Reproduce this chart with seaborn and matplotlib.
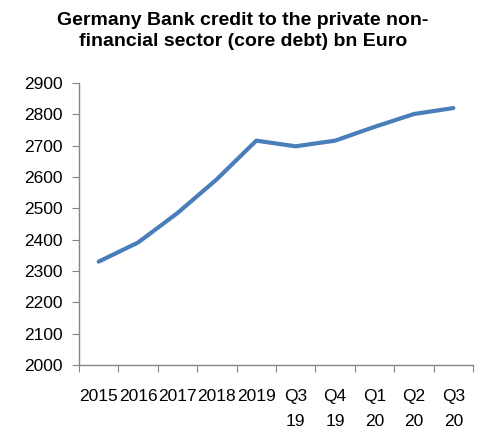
import matplotlib
matplotlib.use("Agg")
import matplotlib.pyplot as plt
import seaborn as sns
import pandas as pd
import numpy as np

categories = ["2015", "2016", "2017", "2018", "2019", "Q3\n19", "Q4\n19", "Q1\n20", "Q2\n20", "Q3\n20"]
values = [2330, 2391, 2485, 2593, 2716, 2698, 2716, 2760, 2801, 2820]
yticks = [2000, 2100, 2200, 2300, 2400, 2500, 2600, 2700, 2800, 2900]
title = "Germany Bank credit to the private non-\nfinancial sector (core debt) bn Euro"

sns.set_theme(style="white")
plt.rcParams["font.family"] = ["Liberation Sans", "DejaVu Sans"]

df = pd.DataFrame({"cat": categories, "val": values})

fig = plt.figure(figsize=(4.83, 4.30), dpi=100)
ax = fig.add_axes([79 / 483, 1 - 365 / 430, (473 - 79) / 483, (365 - 83) / 430])

sns.lineplot(data=df, x="cat", y="val", ax=ax, color="#4A7EBB", linewidth=3.0, sort=False)

ax.set_xlim(-0.5, len(categories) - 0.5)
ax.set_ylim(2000, 2900)
ax.set_yticks(yticks)
ax.set_yticklabels([str(v) for v in yticks])
ax.set_xticks(range(len(categories)))
ax.set_xticklabels(categories, linespacing=1.8)
ax.set_xticks(np.arange(-0.5, len(categories), 1.0), minor=True)

ax.set_xlabel("")
ax.set_ylabel("")

for s in ["top", "right"]:
    ax.spines[s].set_visible(False)
for s in ["left", "bottom"]:
    ax.spines[s].set_color("#868686")
    ax.spines[s].set_linewidth(1.0)

ax.tick_params(axis="y", which="major", direction="out", length=5, width=0.8,
               color="#868686", labelsize=12.5, pad=6.5, left=True, labelcolor="black")
ax.tick_params(axis="x", which="major", length=0, labelsize=12.5, pad=17.5, labelcolor="black", bottom=True)
ax.tick_params(axis="x", which="minor", direction="out", length=5, width=0.8,
               color="#868686", bottom=True)

fig.text(0.503, 0.972, title, ha="center", va="top", fontsize=14, fontweight="bold",
         linespacing=1.3, color="black")

fig.savefig("out.png", dpi=100, facecolor="white")
